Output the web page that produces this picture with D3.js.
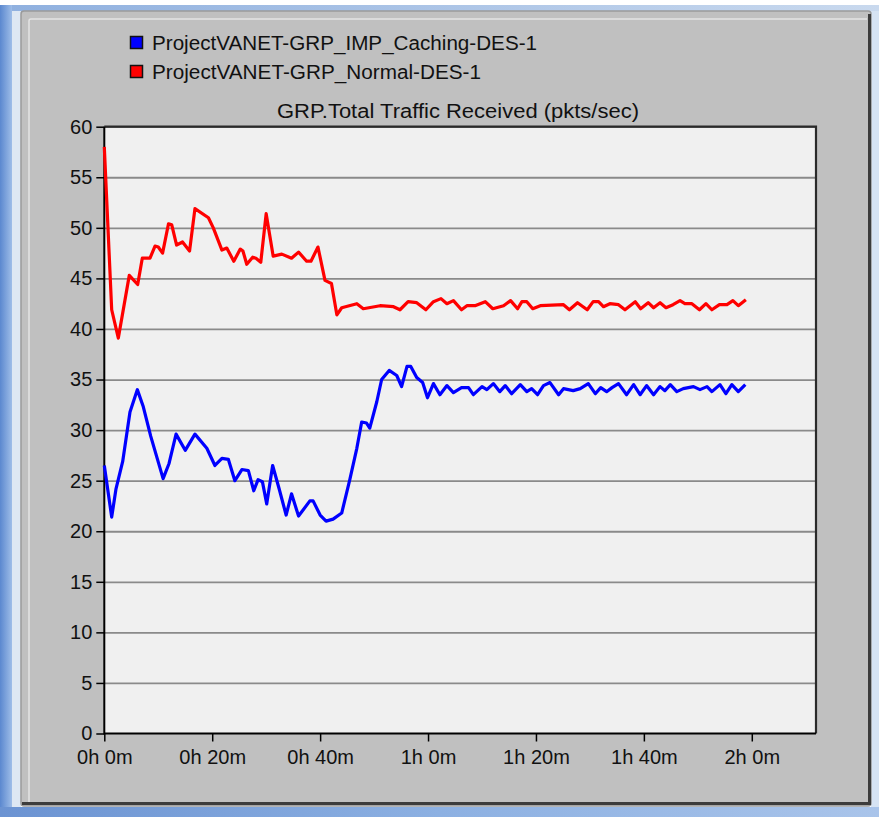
<!DOCTYPE html>
<html>
<head>
<meta charset="utf-8">
<script src="https://cdn.jsdelivr.net/npm/d3@7"></script>
<style>
  html, body { margin: 0; padding: 0; background: #ffffff; }
  svg { display: block; }
  text { font-family: "Liberation Sans", Arial, sans-serif; fill: #111; }
</style>
</head>
<body>
<svg id="chart" width="879" height="817"></svg>
<script>
// Simulation time (minutes) and received traffic (pkts/sec) per scenario
const cachingTimes = [0, 1.37, 2.17, 3.41, 4.76, 6.12, 7.23, 8.6, 10.9, 12.0, 13.3, 15.0, 16.8, 19.0, 20.5, 21.8, 23.0, 24.2, 25.5, 26.7, 27.7, 28.5, 29.3, 30.1, 31.2, 32.4, 33.7, 34.7, 36.0, 38.1, 38.7, 40.0, 41.1, 42.4, 44.0, 45.5, 46.8, 47.7, 48.6, 49.2, 50.5, 51.4, 52.8, 54.2, 55.1, 56.1, 56.8, 57.9, 59.0, 59.9, 61.0, 62.2, 63.5, 64.7, 66.2, 67.5, 68.4, 70.0, 70.9, 72.1, 73.3, 74.3, 75.5, 77.1, 78.3, 79.2, 80.3, 81.4, 82.6, 84.2, 85.1, 86.9, 88.2, 89.7, 91.0, 92.0, 93.1, 94.1, 95.3, 96.8, 98.1, 99.3, 100.5, 101.8, 103.0, 103.9, 104.9, 106.1, 107.3, 109.2, 110.4, 111.7, 112.6, 114.1, 115.2, 116.3, 117.5, 118.8];
const cachingValues = [26.5, 21.4, 24.2, 26.9, 31.8, 34.0, 32.3, 29.4, 25.2, 26.7, 29.6, 28.0, 29.6, 28.2, 26.5, 27.2, 27.1, 25.0, 26.1, 26.0, 24.0, 25.1, 24.9, 22.7, 26.5, 24.2, 21.6, 23.7, 21.5, 23.0, 23.0, 21.6, 21.0, 21.2, 21.8, 25.1, 28.2, 30.8, 30.7, 30.2, 32.8, 35.0, 35.9, 35.4, 34.3, 36.3, 36.3, 35.2, 34.7, 33.2, 34.6, 33.5, 34.4, 33.7, 34.2, 34.2, 33.5, 34.3, 34.0, 34.6, 33.8, 34.4, 33.6, 34.5, 33.8, 34.1, 33.5, 34.4, 34.7, 33.5, 34.1, 33.9, 34.1, 34.6, 33.6, 34.2, 33.8, 34.2, 34.6, 33.5, 34.5, 33.5, 34.4, 33.5, 34.3, 33.9, 34.5, 33.8, 34.1, 34.3, 34.0, 34.3, 33.8, 34.5, 33.6, 34.5, 33.8, 34.5];

const normalTimes = [0, 1.37, 2.6, 4.63, 6.19, 7.04, 8.47, 9.4, 10.0, 10.8, 11.9, 12.5, 13.4, 14.5, 15.8, 16.8, 19.3, 20.2, 21.8, 22.7, 24.0, 25.2, 25.7, 26.4, 27.5, 28.1, 29.0, 30.0, 31.3, 32.9, 34.7, 36.0, 37.5, 38.3, 39.6, 40.9, 42.1, 43.1, 44.0, 46.8, 48.0, 51.1, 53.6, 54.8, 56.3, 57.9, 59.6, 61.0, 62.4, 63.5, 64.7, 66.2, 67.2, 68.7, 70.6, 72.0, 74.0, 75.3, 76.6, 77.4, 78.3, 79.4, 80.8, 85.1, 86.2, 87.7, 89.5, 90.6, 91.6, 92.5, 93.7, 95.3, 96.5, 98.4, 99.4, 100.8, 101.8, 103.0, 104.1, 105.4, 106.7, 107.6, 108.9, 110.3, 111.5, 112.6, 114.0, 115.4, 116.5, 117.5, 118.9];
const normalValues = [58.0, 41.9, 39.1, 45.3, 44.4, 47.0, 47.0, 48.2, 48.1, 47.5, 50.4, 50.3, 48.3, 48.6, 47.7, 51.9, 51.0, 50.0, 47.8, 48.0, 46.7, 47.9, 47.7, 46.4, 47.1, 47.0, 46.6, 51.4, 47.2, 47.4, 47.0, 47.6, 46.7, 46.7, 48.1, 44.8, 44.5, 41.4, 42.1, 42.5, 42.0, 42.3, 42.2, 41.9, 42.7, 42.6, 41.9, 42.7, 43.0, 42.5, 42.8, 41.9, 42.3, 42.3, 42.7, 42.0, 42.3, 42.8, 42.0, 42.7, 42.7, 42.0, 42.3, 42.4, 41.9, 42.6, 41.9, 42.7, 42.7, 42.2, 42.5, 42.4, 41.9, 42.7, 42.0, 42.6, 42.1, 42.6, 42.1, 42.4, 42.8, 42.5, 42.5, 41.9, 42.5, 41.9, 42.4, 42.4, 42.8, 42.3, 42.9];

const seriesNames = ["ProjectVANET-GRP_IMP_Caching-DES-1", "ProjectVANET-GRP_Normal-DES-1"];
const seriesColors = ["#0000ff", "#ff0000"];
const chartTitle = "GRP.Total Traffic Received (pkts/sec)";
const yTicks = [0, 5, 10, 15, 20, 25, 30, 35, 40, 45, 50, 55, 60];
const xTicks = [0, 20, 40, 60, 80, 100, 120];   // minutes

const svg = d3.select("#chart");
const W = 879, H = 817;
const defs = svg.append("defs");

// ---- window frame ----
const gLeft = defs.append("linearGradient").attr("id", "frameLeft").attr("x1", 0).attr("x2", 1).attr("y1", 0).attr("y2", 0);
gLeft.append("stop").attr("offset", "0%").attr("stop-color", "#5b88cf");
gLeft.append("stop").attr("offset", "100%").attr("stop-color", "#9ebde8");
const gTop = defs.append("linearGradient").attr("id", "frameTop").attr("x1", 0).attr("x2", 1).attr("y1", 0).attr("y2", 0);
gTop.append("stop").attr("offset", "0%").attr("stop-color", "#8fb0df");
gTop.append("stop").attr("offset", "100%").attr("stop-color", "#c9d9ee");
const gBot = defs.append("linearGradient").attr("id", "frameBot").attr("x1", 0).attr("x2", 1).attr("y1", 0).attr("y2", 0);
gBot.append("stop").attr("offset", "0%").attr("stop-color", "#6b93d2");
gBot.append("stop").attr("offset", "50%").attr("stop-color", "#8cb0e2");
gBot.append("stop").attr("offset", "100%").attr("stop-color", "#a9c4ea");

svg.append("rect").attr("width", W).attr("height", H).attr("fill", "#ffffff");
svg.append("rect").attr("x", 0).attr("y", 5).attr("width", W).attr("height", 8).attr("fill", "url(#frameTop)");
svg.append("rect").attr("x", 0).attr("y", 5).attr("width", 12).attr("height", H - 5).attr("fill", "url(#frameLeft)");
svg.append("rect").attr("x", 12).attr("y", 11).attr("width", 9).attr("height", H - 11).attr("fill", "#dde7f3");
svg.append("rect").attr("x", 0).attr("y", 807).attr("width", W).attr("height", 10).attr("fill", "url(#frameBot)");
svg.append("rect").attr("x", 871).attr("y", 11).attr("width", 8).attr("height", 796).attr("fill", "#d6e3f3");

// dialog panel with bevelled edges
svg.append("rect").attr("x", 21).attr("y", 11).attr("width", 850).attr("height", 795)
  .attr("rx", 3).attr("fill", "#c0c0c0").attr("stroke", "#9a9a9a").attr("stroke-width", 1.5);
svg.append("path").attr("d", "M29,804 V21 Q29,19 31,19 H867")
  .attr("fill", "none").attr("stroke", "#e4e4e4").attr("stroke-width", 1.5);
svg.append("path").attr("d", "M869.5,14 V803.5 H22")
  .attr("fill", "none").attr("stroke", "#3c3c3c").attr("stroke-width", 3);

// ---- plot area ----
const plotLeft = 104.3, plotRight = 816, plotTop = 126.7, plotBottom = 733.5;
const x = d3.scaleLinear().domain([0, 131.9]).range([plotLeft, plotRight]);
const y = d3.scaleLinear().domain([0, 60]).range([plotBottom, plotTop]);

svg.append("rect").attr("x", plotLeft).attr("y", plotTop)
  .attr("width", plotRight - plotLeft).attr("height", plotBottom - plotTop)
  .attr("fill", "#f0f0f0");

// horizontal grid
svg.append("g").attr("transform", `translate(${plotLeft},0)`)
  .call(d3.axisLeft(y).tickValues(yTicks.slice(1)).tickSize(-(plotRight - plotLeft)).tickFormat(""))
  .call(g => g.select(".domain").remove())
  .call(g => g.selectAll("line").attr("stroke", "#8a8a8a").attr("stroke-width", 1.8));

// plot border: dark top/right, black axes left/bottom
svg.append("path").attr("d", `M${plotLeft},${plotTop} H${plotRight} V${plotBottom}`)
  .attr("fill", "none").attr("stroke", "#2a2a2a").attr("stroke-width", 2.2);
svg.append("path").attr("d", `M${plotLeft},${plotTop} V${plotBottom} H${plotRight}`)
  .attr("fill", "none").attr("stroke", "#000").attr("stroke-width", 2);

// y axis
const yAxis = svg.append("g").attr("transform", `translate(${plotLeft},0)`)
  .call(d3.axisLeft(y).tickValues(yTicks).tickSize(8).tickPadding(4).tickFormat(d3.format("d")));
yAxis.select(".domain").remove();
yAxis.selectAll("line").attr("stroke", "#000").attr("stroke-width", 1.5);
yAxis.selectAll("text").attr("font-size", 20).attr("fill", "#111")
  .style("font-family", "'Liberation Sans', Arial, sans-serif");

// x axis
const fmtTime = m => `${Math.floor(m / 60)}h ${m % 60}m`;
const xAxis = svg.append("g").attr("transform", `translate(0,${plotBottom})`)
  .call(d3.axisBottom(x).tickValues(xTicks).tickSize(8).tickPadding(8).tickFormat(fmtTime));
xAxis.select(".domain").remove();
xAxis.selectAll("line").attr("stroke", "#000").attr("stroke-width", 1.5);
xAxis.selectAll("text").attr("font-size", 20).attr("fill", "#111")
  .style("font-family", "'Liberation Sans', Arial, sans-serif");

// ---- series lines ----
const line = d3.line().x(d => x(d[0])).y(d => y(d[1]));
const series = [
  { times: cachingTimes, values: cachingValues, color: seriesColors[0] },
  { times: normalTimes, values: normalValues, color: seriesColors[1] }
];
series.forEach(s => {
  svg.append("path")
    .datum(s.times.map((t, i) => [t, s.values[i]]))
    .attr("fill", "none").attr("stroke", s.color).attr("stroke-width", 3.2)
    .attr("stroke-linejoin", "round").attr("d", line);
});

// ---- title ----
svg.append("text").attr("x", 458).attr("y", 118).attr("text-anchor", "middle")
  .attr("font-size", 20).attr("textLength", 362).attr("lengthAdjust", "spacingAndGlyphs")
  .text(chartTitle);

// ---- legend ----
const legendWidths = [385, 329];
seriesNames.forEach((name, i) => {
  const ly = 36 + i * 29;
  svg.append("rect").attr("x", 130.5).attr("y", ly + 0.5).attr("width", 12).attr("height", 12)
    .attr("fill", seriesColors[i]).attr("stroke", "#111").attr("stroke-width", 1.5);
  svg.append("text").attr("x", 152).attr("y", ly + 13.5)
    .attr("font-size", 20).attr("textLength", legendWidths[i]).attr("lengthAdjust", "spacingAndGlyphs")
    .text(name);
});
</script>
</body>
</html>
